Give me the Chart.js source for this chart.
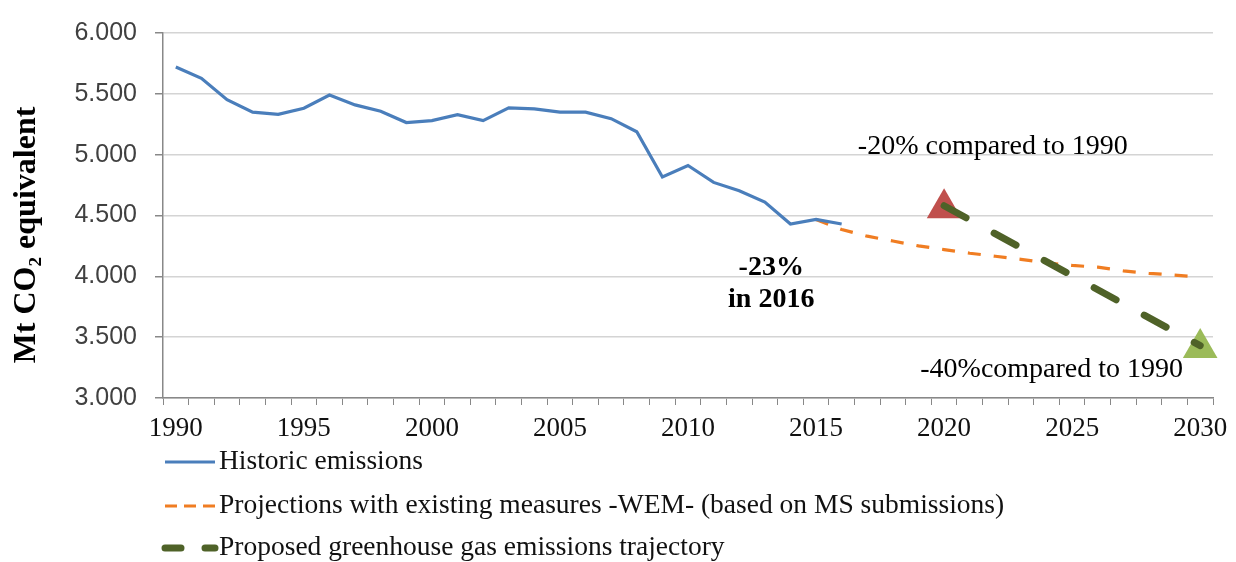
<!DOCTYPE html>
<html>
<head>
<meta charset="utf-8">
<script src="https://cdn.jsdelivr.net/npm/chart.js@4/dist/chart.umd.min.js"></script>
<style>
  body { margin: 0; background: #fff; }
  #wrap { width: 1236px; height: 562px; }
</style>
</head>
<body>
<div id="wrap"><canvas id="graphCanvas"></canvas></div>
<script>
// Years on the category axis
const years = [1990, 1991, 1992, 1993, 1994, 1995, 1996, 1997, 1998, 1999,
  2000, 2001, 2002, 2003, 2004, 2005, 2006, 2007, 2008, 2009,
  2010, 2011, 2012, 2013, 2014, 2015, 2016, 2017, 2018, 2019,
  2020, 2021, 2022, 2023, 2024, 2025, 2026, 2027, 2028, 2029, 2030];

// Mt CO2 equivalent, 1990-2016
const historic = [5720, 5627, 5452, 5349, 5331, 5382, 5490, 5409, 5357, 5264,
  5280, 5329, 5280, 5385, 5377, 5349, 5349, 5296, 5188, 4817,
  4911, 4772, 4704, 4610, 4430, 4468, 4430];

// WEM projections, 2015-2030
const wemYears = [2015, 2016, 2017, 2018, 2019, 2020, 2021, 2022, 2023, 2024,
  2025, 2026, 2027, 2028, 2029, 2030];
const wem = [4468, 4385, 4330, 4290, 4250, 4220, 4190, 4165, 4140, 4110,
  4090, 4075, 4045, 4025, 4010, 3995];

// proposed trajectory endpoints
const trajectoryYears = [2020, 2030];
const trajectory = [4580, 3430];

// target markers
const target2020 = 4560;
const target2030 = 3410;

const yTicks = [3000, 3500, 4000, 4500, 5000, 5500, 6000];

const yTitle = 'Mt CO\u2082 equivalent';

const legendLabels = [
  'Historic emissions',
  'Projections with existing measures -WEM- (based on MS submissions)',
  'Proposed greenhouse gas emissions trajectory'
];

// annotations placed in data units (year, value)
const notes = [
  { text: '-20% compared to 1990', year: 2021.9, value: 5070, bold: false },
  { text: '-40%compared to 1990', year: 2024.2, value: 3236, bold: false },
  { text: '-23%', year: 2013.25, value: 4073, bold: true },
  { text: 'in 2016', year: 2013.25, value: 3806, bold: true }
];

const serif = '"Liberation Serif", "Times New Roman", serif';

function alignTo(srcYears, values) {
  return years.map(y => {
    const i = srcYears.indexOf(y);
    return i < 0 ? null : values[i];
  });
}

const historicData = years.map((y, i) => i < historic.length ? historic[i] : null);
const wemData = alignTo(wemYears, wem);
const trajData = alignTo(trajectoryYears, trajectory);
const red = alignTo([2020], [target2020]);
const green = alignTo([2030], [target2030]);

const annotate = {
  id: 'annotate',
  afterDatasetsDraw(chart) {
    const ctx = chart.ctx;
    const xs = chart.scales.x, ys = chart.scales.y;
    ctx.save();
    ctx.fillStyle = '#000';
    ctx.textAlign = 'center';
    ctx.textBaseline = 'middle';
    notes.forEach(n => {
      ctx.font = (n.bold ? 'bold ' : '') + '28px ' + serif;
      ctx.fillText(n.text, xs.getPixelForValue(n.year - years[0]), ys.getPixelForValue(n.value));
    });
    // rotated axis title, a little below the middle of the axis like the original
    ctx.translate(27, chart.chartArea.top + 202);
    ctx.rotate(-Math.PI / 2);
    ctx.font = 'bold 32px ' + serif;
    ctx.fillText(yTitle, 0, 0);
    ctx.restore();
  }
};

// legend drawn as a vertical list under the axis
const legendStyles = [
  { dash: [], cap: 'butt' },
  { dash: [12, 7], cap: 'butt' },
  { dash: [16, 24], cap: 'round' }
];

const lineLegend = {
  id: 'lineLegend',
  afterDraw(chart) {
    const ctx = chart.ctx;
    const rows = [462, 506, 548];
    const x0 = chart.chartArea.left;
    ctx.save();
    legendLabels.forEach((label, i) => {
      const ds = chart.data.datasets[i];
      ctx.beginPath();
      ctx.strokeStyle = ds.borderColor;
      ctx.lineWidth = ds.borderWidth;
      ctx.lineCap = legendStyles[i].cap;
      ctx.setLineDash(legendStyles[i].dash);
      ctx.moveTo(x0 + 2, rows[i]);
      ctx.lineTo(x0 + 52, rows[i]);
      ctx.stroke();
      ctx.setLineDash([]);
      ctx.fillStyle = '#111';
      ctx.font = '27.5px ' + serif;
      ctx.textAlign = 'left';
      ctx.textBaseline = 'middle';
      ctx.fillText(label, x0 + 56, rows[i]);
    });
    ctx.restore();
  }
};

const ctx = document.getElementById('graphCanvas').getContext('2d');

new Chart(ctx, {
  type: 'line',
  data: {
    labels: years,
    datasets: [
      {
        label: legendLabels[0],
        data: historicData,
        borderColor: '#4a7ebb',
        borderWidth: 3.2,
        pointRadius: 0,
        order: 1
      },
      {
        label: legendLabels[1],
        data: wemData,
        borderColor: '#f07d22',
        borderWidth: 3.2,
        borderDash: [13, 13],
        pointRadius: 0,
        order: 2
      },
      {
        label: legendLabels[2],
        data: trajData,
        borderColor: '#4f6228',
        borderWidth: 7,
        borderDash: [25, 32],
        borderCapStyle: 'round',
        spanGaps: true,
        pointRadius: 0,
        order: 0
      },
      {
        label: 'target 2020',
        data: red,
        showLine: false,
        pointStyle: 'triangle',
        pointRadius: 20,
        backgroundColor: '#c0504d',
        borderColor: '#c0504d',
        borderWidth: 0,
        order: 3
      },
      {
        label: 'target 2030',
        data: green,
        showLine: false,
        pointStyle: 'triangle',
        pointRadius: 20,
        backgroundColor: '#9bbb59',
        borderColor: '#9bbb59',
        borderWidth: 0,
        order: 3
      }
    ]
  },
  options: {
    responsive: true,
    maintainAspectRatio: false,
    animation: false,
    layout: { padding: { top: 25, right: 23, bottom: 124, left: 0 } },
    plugins: {
      legend: { display: false },
      tooltip: { enabled: false }
    },
    scales: {
      x: {
        offset: true,
        grid: {
          offset: true,
          drawOnChartArea: false,
          tickLength: 7,
          tickColor: '#888'
        },
        border: { color: '#888', width: 1.5 },
        ticks: {
          autoSkip: false,
          maxRotation: 0,
          padding: 8,
          color: '#111',
          font: { family: serif, size: 27 },
          callback: (v, i) => years[i] % 5 === 0 ? String(years[i]) : ''
        },
        afterFit: s => { s.height = 40; }
      },
      y: {
        min: 3000,
        max: 6000,
        afterBuildTicks: s => { s.ticks = yTicks.map(v => ({ value: v })); },
        grid: { color: '#d4d4d4', tickColor: '#888', tickLength: 8, lineWidth: 1.5 },
        border: { color: '#888', width: 1.5 },
        ticks: {
          padding: 18,
          color: '#404040',
          font: { family: '"Liberation Sans", Arial, sans-serif', size: 25 },
          callback: v => (v / 1000).toFixed(3)
        },
        afterFit: s => { s.width = 163; }
      }
    }
  },
  plugins: [annotate, lineLegend]
});
</script>
</body>
</html>
